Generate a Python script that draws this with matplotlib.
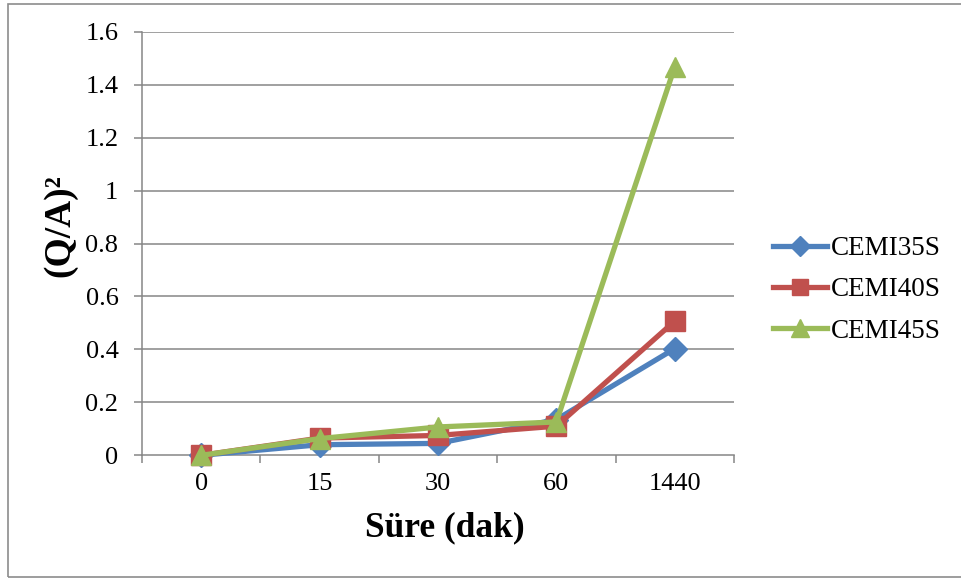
import matplotlib
matplotlib.use("Agg")
import matplotlib.pyplot as plt
from matplotlib.patches import Rectangle

# Data
categories = ["0", "15", "30", "60", "1440"]
cemi35s = [0.0, 0.04, 0.045, 0.135, 0.403]
cemi40s = [0.0, 0.065, 0.075, 0.11, 0.507]
cemi45s = [0.0, 0.063, 0.107, 0.126, 1.468]
series_names = ["CEMI35S", "CEMI40S", "CEMI45S"]
y_ticks = [0, 0.2, 0.4, 0.6, 0.8, 1.0, 1.2, 1.4, 1.6]
y_tick_labels = ["0", "0.2", "0.4", "0.6", "0.8", "1", "1.2", "1.4", "1.6"]

plt.rcParams["font.family"] = ["Liberation Serif", "DejaVu Serif"]

W, H = 961, 581
fig = plt.figure(figsize=(W / 100, H / 100), dpi=100)
fig.patch.set_facecolor("white")

# outer chart border (runs off the right edge)
fig.patches.append(Rectangle((8 / W, 4 / H), 1.2, (577 - 4) / H,
                             transform=fig.transFigure, fill=False,
                             edgecolor="#8c8c8c", linewidth=1.2, zorder=0))

left, right, top, bottom = 142, 734, 31.7, 455.3
ax = fig.add_axes([left / W, (H - bottom) / H, (right - left) / W, (bottom - top) / H])

grid_color = "#868686"
x = list(range(len(categories)))

ax.set_ylim(0, 1.6)
ax.set_xlim(-0.5, len(categories) - 0.5)
ax.set_yticks(y_ticks)
ax.set_yticklabels(y_tick_labels)
for yv in y_ticks[1:]:
    ax.axhline(yv, color=grid_color, linewidth=1.1, zorder=1)

for side in ["top", "right"]:
    ax.spines[side].set_visible(False)
for side in ["left", "bottom"]:
    ax.spines[side].set_color(grid_color)
    ax.spines[side].set_linewidth(1.1)

# category boundaries carry the x tick marks; labels sit at the centres
ax.set_xticks([i - 0.5 for i in range(len(categories) + 1)])
ax.set_xticklabels([])
ax.set_xticks(x, minor=True)
ax.set_xticklabels(categories, minor=True)
ax.tick_params(axis="x", which="major", direction="out", length=6, width=1.1, color=grid_color)
ax.tick_params(axis="x", which="minor", length=0, pad=13, labelsize=19)
ax.tick_params(axis="y", direction="out", length=6, width=1.1, color=grid_color, pad=11, labelsize=19)

colors = ["#4F81BD", "#C0504D", "#9BBB59"]
markers = ["D", "s", "^"]
msizes = [12.5, 14, 15]
for vals, name, c, m, ms in zip([cemi35s, cemi40s, cemi45s], series_names, colors, markers, msizes):
    ax.plot(x, vals, color=c, linewidth=3.8, marker=m, markersize=ms,
            markerfacecolor=c, markeredgecolor=c, label=name, zorder=3, clip_on=False)

fig.text(445 / W, 1 - 528 / H, "Süre (dak)", ha="center", va="center",
         fontsize=25.5, fontweight="bold")
fig.text(60 / W, 1 - 226 / H, "(Q/A)²", ha="center", va="center",
         fontsize=27, fontweight="bold", rotation=90)

leg = fig.legend(loc="center left", bbox_to_anchor=(773 / W, 1 - 290 / H),
                 frameon=False, fontsize=19.5, handlelength=2.0, handletextpad=0.15,
                 labelspacing=0.6, borderpad=0, borderaxespad=0, markerscale=0.85)

fig.savefig("out.png", dpi=100, facecolor="white")
